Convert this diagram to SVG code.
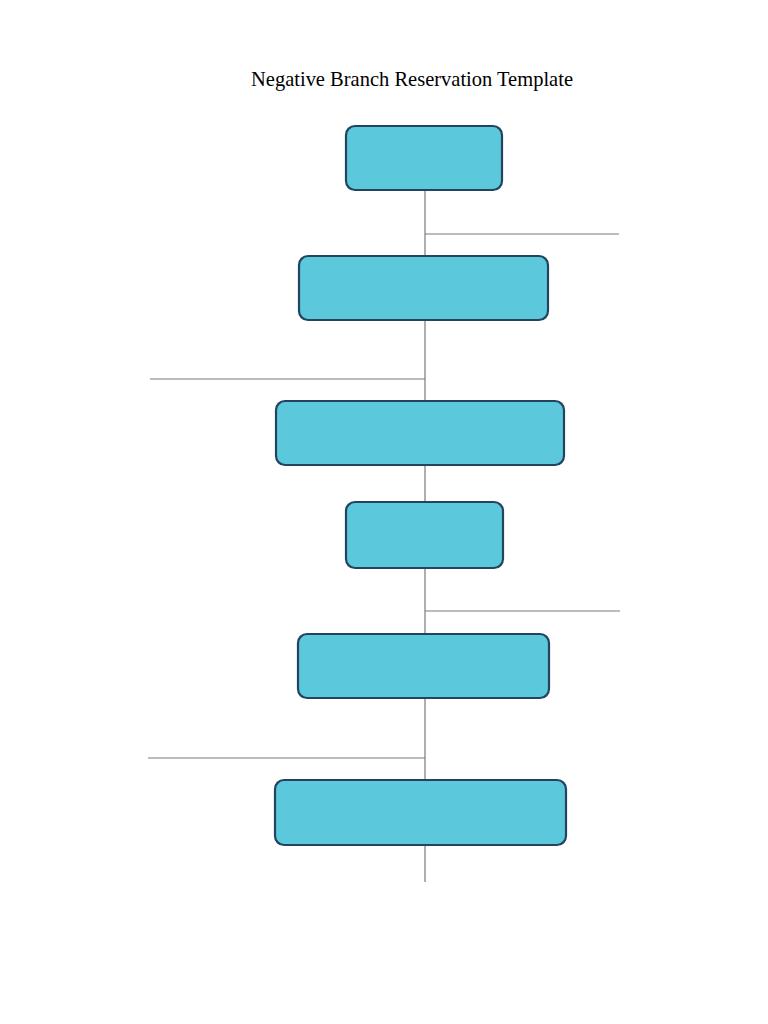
<svg xmlns="http://www.w3.org/2000/svg" width="768" height="1024" viewBox="0 0 768 1024">
<style>
.box{fill:#5bc8db;stroke:#22445f;stroke-width:2.2}
.ln{stroke:#7a7a7a;stroke-width:1.2;fill:none}
.title{font-family:"Liberation Serif",serif;font-size:21px;fill:#000}
</style>
<rect width="768" height="1024" fill="#fff"/>
<text class="title" x="412" y="86" text-anchor="middle" textLength="322" lengthAdjust="spacingAndGlyphs">Negative Branch Reservation Template</text>
<g id="connectors">
<line class="ln" x1="425" y1="190" x2="425" y2="882"/>
<line class="ln" x1="425" y1="234" x2="619" y2="234"/>
<line class="ln" x1="150" y1="379" x2="425" y2="379"/>
<line class="ln" x1="425" y1="611" x2="620" y2="611"/>
<line class="ln" x1="148" y1="758" x2="425" y2="758"/>
</g>
<g id="node1"><rect class="box" x="346" y="126" width="156" height="64" rx="9"/></g>
<g id="node2"><rect class="box" x="299" y="256" width="249" height="64" rx="9"/></g>
<g id="node3"><rect class="box" x="276" y="401" width="288" height="64" rx="9"/></g>
<g id="node4"><rect class="box" x="346" y="502" width="157" height="66" rx="9"/></g>
<g id="node5"><rect class="box" x="298" y="634" width="251" height="64" rx="9"/></g>
<g id="node6"><rect class="box" x="275" y="780" width="291" height="65" rx="9"/></g>
</svg>
